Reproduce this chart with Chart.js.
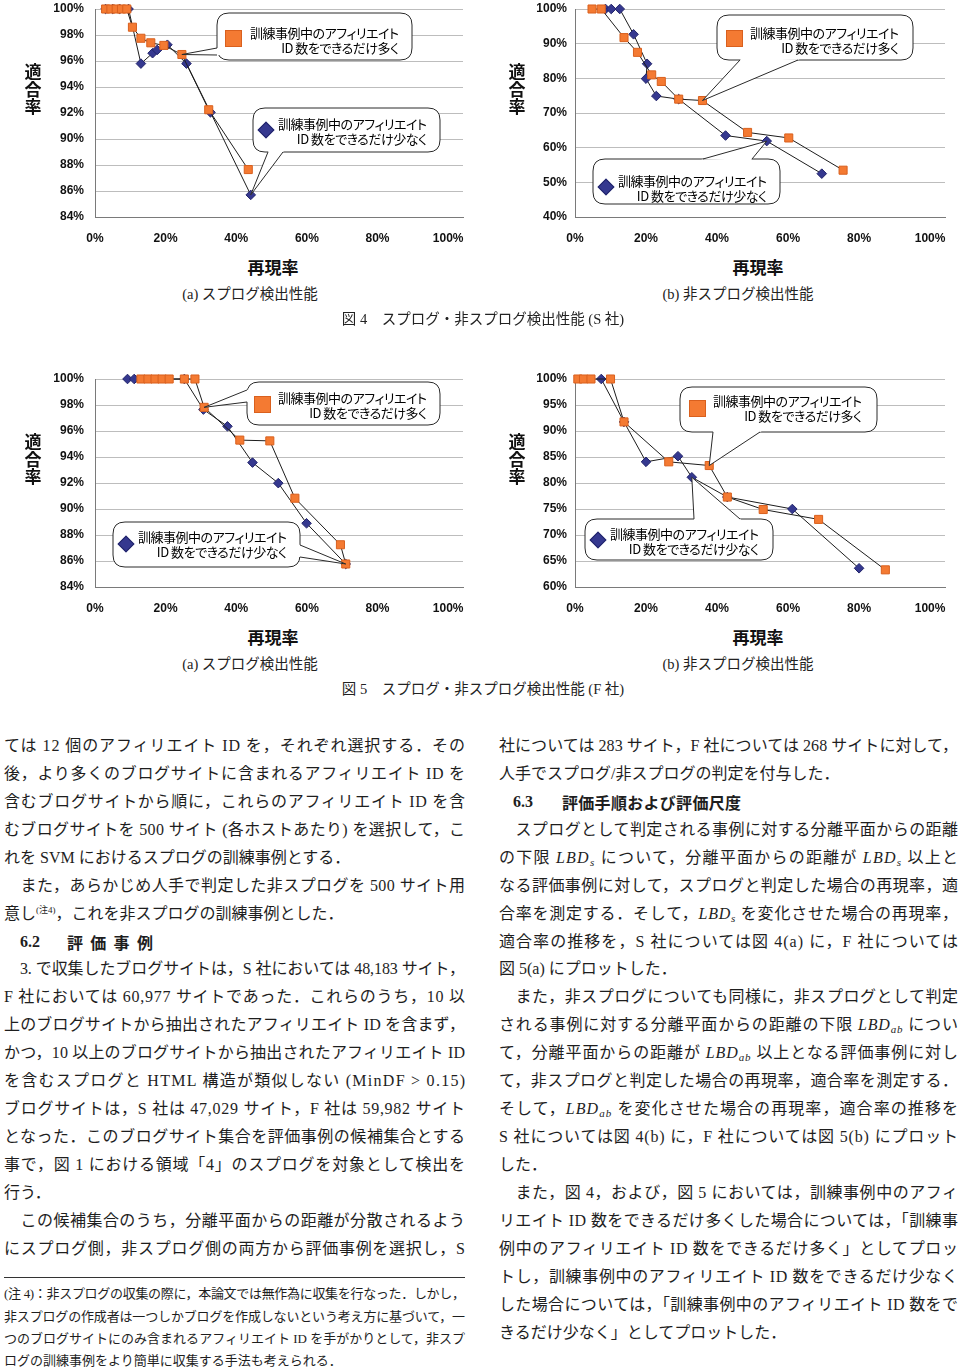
<!DOCTYPE html>
<html lang="ja">
<head>
<meta charset="utf-8">
<script src="https://cdn.jsdelivr.net/npm/chart.js@4.4.1/dist/chart.umd.min.js"></script>
<style>
html,body{margin:0;padding:0;background:#fff;}
#page{position:relative;width:960px;height:1369px;overflow:hidden;background:#fff;}
canvas{position:absolute;}
.ytitle{position:absolute;font-family:"Noto Sans CJK JP";font-weight:bold;font-size:17px;line-height:17.5px;color:#111;transform:translate(-50%,-50%);text-align:center;width:20px;}
.xtitle{position:absolute;font-family:"Noto Sans CJK JP";font-weight:bold;font-size:17px;line-height:20px;color:#111;transform:translate(-50%,-50%);white-space:nowrap;}
.cap{position:absolute;font-family:"Liberation Serif","Noto Sans CJK JP";font-size:14.5px;line-height:18px;color:#222;transform:translate(-50%,-50%);white-space:nowrap;}
.ic{position:absolute;box-sizing:border-box;}
.ic.sq{width:17px;height:17px;background:#F47A32;border:1px solid #D9601E;}
.ic.dm{width:12px;height:12px;background:#35388F;border:1px solid #22246a;transform:rotate(45deg);}
.ctx{position:absolute;font-family:"Noto Sans CJK JP";font-size:13px;line-height:15px;white-space:nowrap;color:#000;font-feature-settings:"palt";}
.ctx div{text-align:right;}
.ctx div:first-child{text-align:left;}
.ln{position:absolute;height:24px;line-height:24px;white-space:nowrap;font-family:"Liberation Serif","Noto Sans CJK JP";font-size:16px;color:#1e1e1e;}
.ln sup{font-size:9px;vertical-align:6px;line-height:0;}
.ln sub{font-size:11px;vertical-align:-3px;line-height:0;}
.fn{font-size:13px;}
.hd{position:absolute;height:24px;line-height:24px;white-space:nowrap;font-size:16px;font-weight:bold;color:#1e1e1e;}
.hd .n{font-family:"Liberation Serif";}
.hd .t{font-family:"Noto Sans CJK JP";}
#rule{position:absolute;left:4px;top:1277px;width:461px;height:1px;background:#333;}
</style>
</head>
<body>
<div id="page">
  <canvas id="c4a" width="480" height="250" style="left:0px;top:0px"></canvas>
  <canvas id="c4b" width="480" height="250" style="left:480px;top:0px"></canvas>
  <canvas id="c5a" width="480" height="250" style="left:0px;top:370px"></canvas>
  <canvas id="c5b" width="480" height="250" style="left:480px;top:370px"></canvas>
  <div id="rule"></div>
</div>
<script>
// ================= DATA =================
const xTickValues = [0, 20, 40, 60, 80, 100];
const xTickLabels = ['0%', '20%', '40%', '60%', '80%', '100%'];
const yTicks4a = [84, 86, 88, 90, 92, 94, 96, 98, 100];
const yTicks4b = [40, 50, 60, 70, 80, 90, 100];
const yTicks5a = [84, 86, 88, 90, 92, 94, 96, 98, 100];
const yTicks5b = [60, 65, 70, 75, 80, 85, 90, 95, 100];

const seriesManyLabel = '訓練事例中のアフィリエイト ID 数をできるだけ多く';
const seriesFewLabel = '訓練事例中のアフィリエイト ID 数をできるだけ少なく';

// Fig.4(a) spam detection (S)
const recall4aMany    = [3, 4.5, 6, 7.5, 9, 10.6, 13.0, 15.8, 19.5, 24.6, 32.2, 43.4];
const precision4aMany = [100, 100, 100, 100, 100, 98.6, 97.75, 97.4, 97.2, 96.5, 92.25, 87.65];
const recall4aFew     = [3, 5, 7, 9.5, 13.0, 16.3, 17.6, 20.5, 25.9, 32.7, 44.1];
const precision4aFew  = [100, 100, 100, 100, 95.8, 96.6, 96.85, 97.25, 95.8, 92.05, 85.7];

// Fig.4(b) non-spam detection (S)
const recall4bMany    = [4.8, 7.4, 13.8, 17.6, 21.6, 24.3, 29.2, 35.9, 48.6, 60.2, 75.5];
const precision4bMany = [100, 100, 91.75, 87.5, 81.0, 79.1, 74.0, 73.6, 64.4, 62.8, 53.5];
const recall4bFew     = [8.6, 10.2, 12.6, 16.5, 20.3, 20.0, 22.9, 29.2, 42.4, 54.0, 69.5];
const precision4bFew  = [100, 100, 100, 92.7, 84.2, 79.9, 74.9, 74.0, 63.5, 61.9, 52.5];

// Fig.5(a) spam detection (F)
const recall5aMany    = [13, 15, 17, 19, 21, 25.3, 28.3, 30.9, 41.0, 49.5, 56.6, 69.5, 71.0];
const precision5aMany = [100, 100, 100, 100, 100, 100, 100, 97.82, 95.3, 95.24, 90.83, 87.25, 85.77];
const recall5aFew     = [9.2, 11.1, 25.3, 30.7, 37.5, 44.6, 51.9, 59.9, 71.0];
const precision5aFew  = [100, 100, 100, 97.65, 96.36, 93.57, 91.99, 88.9, 85.77];

// Fig.5(b) non-spam detection (F)
const recall5bMany    = [0.8, 2.4, 4.5, 10, 13.8, 26.4, 37.8, 42.9, 53.0, 68.6, 87.4];
const precision5bMany = [100, 100, 100, 100, 91.75, 84.07, 83.36, 77.3, 74.9, 73.0, 63.3];
const recall5bFew     = [7.4, 13.8, 20.0, 29.0, 32.9, 42.9, 61.2, 80.0];
const precision5bFew  = [100, 91.75, 84.07, 85.15, 81.1, 77.3, 75.0, 63.6];

// ================= STYLE / LAYOUT =================
const ORANGE = '#F47A32', ORANGE_EDGE = '#D9601E';
const NAVY = '#35388F', NAVY_EDGE = '#22246a';
const LINE = '#1c1c1c';
const X_MAX = 104.2;

const pts = (xs, ys) => xs.map((x, i) => ({ x: x, y: ys[i] }));

const calloutPlugin = {
  id: 'callouts',
  afterDatasetsDraw(chart, args, opts) {
    const items = (opts && opts.items) || [];
    const ctx = chart.ctx;
    items.forEach(c => {
      const meta = chart.getDatasetMeta(c.ds);
      const idx = c.idx < 0 ? meta.data.length + c.idx : c.idx;
      const p = meta.data[idx];
      const tip = { x: p.x, y: p.y };
      const b = c.box, r = 12;
      ctx.save();
      ctx.lineWidth = 1;
      ctx.strokeStyle = '#2a2a2a';
      ctx.fillStyle = '#fff';
      ctx.beginPath();
      ctx.moveTo(b.x + r, b.y);
      ctx.lineTo(b.x + b.w - r, b.y);
      ctx.quadraticCurveTo(b.x + b.w, b.y, b.x + b.w, b.y + r);
      ctx.lineTo(b.x + b.w, b.y + b.h - r);
      ctx.quadraticCurveTo(b.x + b.w, b.y + b.h, b.x + b.w - r, b.y + b.h);
      ctx.lineTo(b.x + r, b.y + b.h);
      ctx.quadraticCurveTo(b.x, b.y + b.h, b.x, b.y + b.h - r);
      ctx.lineTo(b.x, b.y + r);
      ctx.quadraticCurveTo(b.x, b.y, b.x + r, b.y);
      ctx.closePath();
      ctx.fill();
      ctx.stroke();
      const ext = (q) => {
        const dx = q[0] - tip.x, dy = q[1] - tip.y, L = Math.hypot(dx, dy) || 1;
        return [q[0] + dx / L * 2, q[1] + dy / L * 2];
      };
      const b0 = c.base[0], b1 = c.base[1];
      const e0 = ext(b0), e1 = ext(b1);
      ctx.beginPath();
      ctx.moveTo(e0[0], e0[1]);
      ctx.lineTo(tip.x, tip.y);
      ctx.lineTo(e1[0], e1[1]);
      ctx.closePath();
      ctx.fill();
      ctx.beginPath();
      ctx.moveTo(b0[0], b0[1]);
      ctx.lineTo(tip.x, tip.y);
      ctx.lineTo(b1[0], b1[1]);
      ctx.stroke();
      ctx.restore();
    });
  }
};

function makeChart(id, cfg) {
  return new Chart(document.getElementById(id), {
    type: 'scatter',
    data: {
      datasets: [
        {
          label: seriesManyLabel,
          data: pts(cfg.manyX, cfg.manyY),
          showLine: true, borderColor: LINE, borderWidth: 1,
          pointStyle: 'rect', pointRadius: 5.7, pointHoverRadius: 5.7,
          pointBackgroundColor: ORANGE, pointBorderColor: ORANGE_EDGE, pointBorderWidth: 1,
          clip: false, order: 0
        },
        {
          label: seriesFewLabel,
          data: pts(cfg.fewX, cfg.fewY),
          showLine: true, borderColor: LINE, borderWidth: 1,
          pointStyle: 'rectRot', pointRadius: 4.8, pointHoverRadius: 4.8,
          pointBackgroundColor: NAVY, pointBorderColor: NAVY_EDGE, pointBorderWidth: 1,
          clip: false, order: 1
        }
      ]
    },
    options: {
      responsive: false, animation: false, devicePixelRatio: 1,
      events: [],
      layout: { autoPadding: false, padding: { top: 9, right: cfg.padRight, left: 0, bottom: 0 } },
      plugins: { legend: { display: false }, tooltip: { enabled: false }, callouts: { items: cfg.callouts } },
      scales: {
        x: {
          type: 'linear', min: 0, max: X_MAX,
          afterBuildTicks: s => { s.ticks = xTickValues.map(v => ({ value: v })); },
          afterFit: s => { s.height = 33; s.paddingLeft = 0; s.paddingRight = 0; },
          grid: { display: false, drawTicks: false },
          border: { display: true, color: '#7a7a7a', width: 1 },
          ticks: {
            padding: 14, color: '#111', autoSkip: false, maxRotation: 0,
            font: { family: 'Liberation Sans', size: 12, weight: 'bold' },
            callback: (v) => { const i = xTickValues.indexOf(v); return i >= 0 ? xTickLabels[i] : ''; }
          }
        },
        y: {
          type: 'linear', min: cfg.yTicks[0], max: cfg.yTicks[cfg.yTicks.length - 1],
          afterBuildTicks: s => { s.ticks = cfg.yTicks.map(v => ({ value: v })); },
          afterFit: s => { s.width = 95; s.paddingTop = 0; s.paddingBottom = 0; },
          grid: { color: '#bdbdbd', lineWidth: 1, drawTicks: false },
          border: { display: true, color: '#7a7a7a', width: 1 },
          ticks: {
            padding: cfg.yPad, color: '#111',
            font: { family: 'Liberation Sans', size: 12, weight: 'bold' },
            callback: v => v + '%'
          }
        }
      }
    },
    plugins: [calloutPlugin]
  });
}

makeChart('c4a', {
  manyX: recall4aMany, manyY: precision4aMany, fewX: recall4aFew, fewY: precision4aFew,
  yTicks: yTicks4a, padRight: 17, yPad: 11,
  callouts: [
    { ds: 0, idx: 9, box: { x: 217, y: 13, w: 195, h: 47 }, base: [[217, 48], [217, 55]] },
    { ds: 1, idx: -1, box: { x: 253, y: 108, w: 187, h: 44 }, base: [[268, 152], [283, 152]] }
  ]
});
makeChart('c4b', {
  manyX: recall4bMany, manyY: precision4bMany, fewX: recall4bFew, fewY: precision4bFew,
  yTicks: yTicks4b, padRight: 15, yPad: 8,
  callouts: [
    { ds: 0, idx: 7, box: { x: 237, y: 15, w: 196, h: 45 }, base: [[260, 60], [318, 60]] },
    { ds: 1, idx: 9, box: { x: 113, y: 159, w: 187, h: 45 }, base: [[223, 159], [272, 159]] }
  ]
});
makeChart('c5a', {
  manyX: recall5aMany, manyY: precision5aMany, fewX: recall5aFew, fewY: precision5aFew,
  yTicks: yTicks5a, padRight: 17, yPad: 11,
  callouts: [
    { ds: 0, idx: 7, box: { x: 247, y: 12, w: 193, h: 43 }, base: [[247, 20], [247, 32]] },
    { ds: 1, idx: -1, box: { x: 113, y: 152, w: 187, h: 45 }, base: [[300, 175], [300, 187]] }
  ]
});
makeChart('c5b', {
  manyX: recall5bMany, manyY: precision5bMany, fewX: recall5bFew, fewY: precision5bFew,
  yTicks: yTicks5b, padRight: 15, yPad: 8,
  callouts: [
    { ds: 0, idx: 6, box: { x: 200, y: 17, w: 197, h: 45 }, base: [[233, 62], [280, 62]] },
    { ds: 1, idx: 4, box: { x: 105, y: 149, w: 188, h: 41 }, base: [[214, 149], [260, 149]] }
  ]
});

// ================= TEXT =================
const page = document.getElementById('page');
function add(cls, html, style) {
  const d = document.createElement('div');
  d.className = cls;
  d.innerHTML = html;
  Object.assign(d.style, style);
  page.appendChild(d);
  return d;
}

// axis titles
[[33, 88], [517, 88], [33, 458], [517, 458]].forEach(p => add('ytitle', '<div>適</div><div>合</div><div>率</div>', { left: p[0] + 'px', top: p[1] + 'px' }));
[[273, 267], [758, 267], [273, 637], [758, 637]].forEach(p => add('xtitle', '再現率', { left: p[0] + 'px', top: p[1] + 'px' }));

// captions
add('cap', '(a) スプログ検出性能', { left: '250px', top: '294px' });
add('cap', '(b) 非スプログ検出性能', { left: '738px', top: '294px' });
add('cap', '図 4　スプログ・非スプログ検出性能 (S 社)', { left: '483px', top: '319px' });
add('cap', '(a) スプログ検出性能', { left: '250px', top: '664px' });
add('cap', '(b) 非スプログ検出性能', { left: '738px', top: '664px' });
add('cap', '図 5　スプログ・非スプログ検出性能 (F 社)', { left: '483px', top: '689px' });

// callout labels (page coords)
const calloutLabels = [
  { kind: 'sq', icon: [233, 38], tx: [250, 32], t2: 'ID 数をできるだけ多く' },
  { kind: 'dm', icon: [266, 130], tx: [278, 123], t2: 'ID 数をできるだけ少なく' },
  { kind: 'sq', icon: [734, 38], tx: [750, 32], t2: 'ID 数をできるだけ多く' },
  { kind: 'dm', icon: [606, 187], tx: [618, 180], t2: 'ID 数をできるだけ少なく' },
  { kind: 'sq', icon: [262, 404], tx: [278, 397], t2: 'ID 数をできるだけ多く' },
  { kind: 'dm', icon: [126, 544], tx: [138, 536], t2: 'ID 数をできるだけ少なく' },
  { kind: 'sq', icon: [697, 408], tx: [713, 400], t2: 'ID 数をできるだけ多く' },
  { kind: 'dm', icon: [598, 540], tx: [610, 533], t2: 'ID 数をできるだけ少なく' }
];
const calloutEls = [];
calloutLabels.forEach(c => {
  const s = c.kind === 'sq' ? 17 : 12;
  add('ic ' + c.kind, '', { left: (c.icon[0] - s / 2) + 'px', top: (c.icon[1] - s / 2) + 'px' });
  const el = add('ctx', '<div>訓練事例中のアフィリエイト</div><div>' + c.t2 + '</div>',
    { left: c.tx[0] + 'px', top: (c.tx[1] - 7.5) + 'px' });
  calloutEls.push(el);
});

// body text lines
const Y0 = 746, LH = 27.93;
const leftLines = [
  ['ては 12 個のアフィリエイト ID を，それぞれ選択する．その', 1],
  ['後，より多くのブログサイトに含まれるアフィリエイト ID を', 1],
  ['含むブログサイトから順に，これらのアフィリエイト ID を含', 1],
  ['むブログサイトを 500 サイト (各ホストあたり) を選択して，こ', 1],
  ['れを SVM におけるスプログの訓練事例とする．', 0],
  ['　また，あらかじめ人手で判定した非スプログを 500 サイト用', 1],
  ['意し<sup>(注4)</sup>，これを非スプログの訓練事例とした．', 0],
  null,
  ['　3. で収集したブログサイトは，S 社においては 48,183 サイト，', 1],
  ['F 社においては 60,977 サイトであった．これらのうち，10 以', 1],
  ['上のブログサイトから抽出されたアフィリエイト ID を含まず，', 1],
  ['かつ，10 以上のブログサイトから抽出されたアフィリエイト ID', 1],
  ['を含むスプログと HTML 構造が類似しない (MinDF &gt; 0.15)', 1],
  ['ブログサイトは，S 社は 47,029 サイト，F 社は 59,982 サイト', 1],
  ['となった．このブログサイト集合を評価事例の候補集合とする', 1],
  ['事で，図 1 における領域「4」のスプログを対象として検出を', 1],
  ['行う．', 0],
  ['　この候補集合のうち，分離平面からの距離が分散されるよう', 1],
  ['にスプログ側，非スプログ側の両方から評価事例を選択し，S', 1]
];
const LBDs = '<i>LBD<sub>s</sub></i>';
const LBDab = '<i>LBD<sub>ab</sub></i>';
const rightLines = [
  ['社については 283 サイト，F 社については 268 サイトに対して，', 1],
  ['人手でスプログ/非スプログの判定を付与した．', 0],
  null,
  ['　スプログとして判定される事例に対する分離平面からの距離', 1],
  ['の下限 ' + LBDs + ' について，分離平面からの距離が ' + LBDs + ' 以上と', 1],
  ['なる評価事例に対して，スプログと判定した場合の再現率，適', 1],
  ['合率を測定する．そして，' + LBDs + ' を変化させた場合の再現率，', 1],
  ['適合率の推移を，S 社については図 4(a) に，F 社については', 1],
  ['図 5(a) にプロットした．', 0],
  ['　また，非スプログについても同様に，非スプログとして判定', 1],
  ['される事例に対する分離平面からの距離の下限 ' + LBDab + ' につい', 1],
  ['て，分離平面からの距離が ' + LBDab + ' 以上となる評価事例に対し', 1],
  ['て，非スプログと判定した場合の再現率，適合率を測定する．', 1],
  ['そして，' + LBDab + ' を変化させた場合の再現率，適合率の推移を', 1],
  ['S 社については図 4(b) に，F 社については図 5(b) にプロット', 1],
  ['した．', 0],
  ['　また，図 4，および，図 5 においては，訓練事例中のアフィ', 1],
  ['リエイト ID 数をできるだけ多くした場合については，「訓練事', 1],
  ['例中のアフィリエイト ID 数をできるだけ多く」としてプロッ', 1],
  ['トし，訓練事例中のアフィリエイト ID 数をできるだけ少なく', 1],
  ['した場合については，「訓練事例中のアフィリエイト ID 数をで', 1],
  ['きるだけ少なく」としてプロットした．', 0]
];
const footLines = [
  ['(注 4)：非スプログの収集の際に，本論文では無作為に収集を行なった．しかし，', 1, 1294],
  ['非スプログの作成者は一つしかブログを作成しないという考え方に基づいて，一', 1, 1317],
  ['つのブログサイトにのみ含まれるアフィリエイト ID を手がかりとして，非スプ', 1, 1339],
  ['ログの訓練事例をより簡単に収集する手法も考えられる．', 0, 1361]
];

const fitList = [];
leftLines.forEach((l, k) => {
  if (!l) return;
  const el = add('ln', l[0], { left: '4px', top: (Y0 + LH * k - 12) + 'px' });
  if (l[1]) fitList.push([el, 461]);
});
rightLines.forEach((l, k) => {
  if (!l) return;
  const el = add('ln', l[0], { left: '499px', top: (Y0 + LH * k - 12) + 'px' });
  if (l[1]) fitList.push([el, 459]);
});
footLines.forEach(l => {
  const el = add('ln fn', l[0], { left: '4px', top: (l[2] - 12) + 'px' });
  if (l[1]) fitList.push([el, 461]);
});

// headings
add('hd', '<span class="n">6.2</span>', { left: '20px', top: (Y0 + LH * 7 - 12) + 'px' });
add('hd', '<span class="t">評価事例</span>', { left: '67px', top: (Y0 + LH * 7 - 12) + 'px', letterSpacing: '7.3px' });
add('hd', '<span class="n">6.3</span>', { left: '513px', top: (Y0 + LH * 2 - 12) + 'px' });
add('hd', '<span class="t">評価手順および評価尺度</span>', { left: '562px', top: (Y0 + LH * 2 - 12) + 'px', letterSpacing: '0.3px' });

function fitAll() {
  fitList.forEach(([el, target]) => {
    el.style.letterSpacing = '0px';
    const w = el.getBoundingClientRect().width;
    const n = [...el.textContent].length;
    if (n > 1) el.style.letterSpacing = ((target - w) / (n - 1)) + 'px';
  });
  calloutEls.forEach(el => {
    el.style.letterSpacing = '0px';
    const first = el.firstChild;
    const span = document.createElement('span');
    span.textContent = first.textContent;
    first.textContent = '';
    first.appendChild(span);
    const w = span.getBoundingClientRect().width;
    const n = span.textContent.length;
    el.style.letterSpacing = ((149 - w) / (n - 1)) + 'px';
    first.textContent = span.textContent;
  });
}
fitAll();
</script>
</body>
</html>
